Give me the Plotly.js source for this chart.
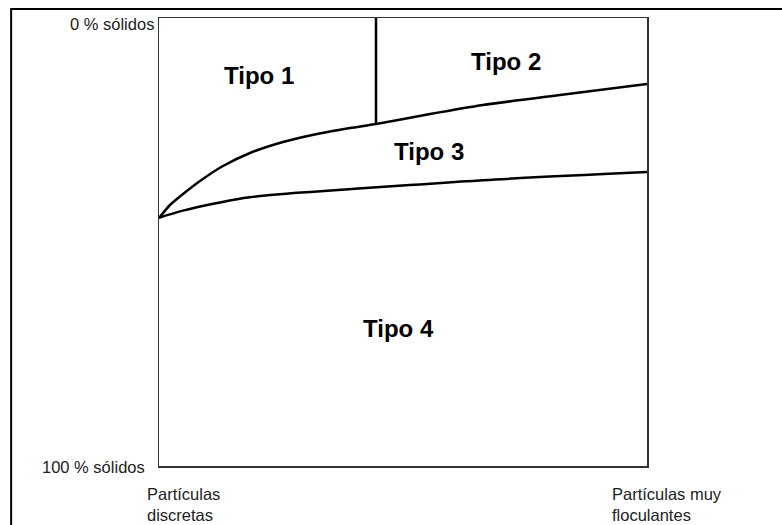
<!DOCTYPE html>
<html>
<head>
<meta charset="utf-8">
<script src="https://cdn.plot.ly/plotly-3.0.1.min.js"></script>
<style>html,body{margin:0;padding:0;background:#fff;}#chart{width:782px;height:525px;}</style>
</head>
<body>
<div id="chart"></div>
<script>
// x: 0 = partículas discretas, 1 = partículas muy floculantes; y: % sólidos (0 top, 100 bottom)
const upperX = [0, 0.0225, 0.0492, 0.084, 0.1311, 0.1865, 0.2541, 0.3238, 0.3914, 0.4447, 0.5553, 0.6639, 0.8217, 1.0];
const upperY = [44.64, 41.74, 39.29, 36.38, 33.04, 30.13, 27.68, 25.89, 24.55, 23.66, 21.43, 19.42, 17.19, 14.73];
const lowerX = [0, 0.049, 0.119, 0.186, 0.324, 0.514, 0.664, 1.0];
const lowerY = [44.6, 43.0, 41.3, 40.0, 38.7, 37.3, 36.2, 34.4];
const dividerX = [0.4447, 0.4447];
const dividerY = [0, 23.66];
const zoneLabels = ["Tipo 1", "Tipo 2", "Tipo 3", "Tipo 4"];
const zoneX = [0.205, 0.711, 0.553, 0.490];
const zoneY = [12.9, 9.6, 29.9, 69.2];
const yLabels = ["0 % sólidos", "100 % sólidos"];
const yLabelX = [-0.006, -0.025];
const yLabelPos = [0.987, -0.002];
const xLabels = ["Partículas<br>discretas", "Partículas muy<br>floculantes"];
const xLabelPos = [-0.029, 0.924];

const lineStyle = {color: "#000", width: 2.5};
const traces = [
  {x: upperX, y: upperY, mode: "lines", line: Object.assign({shape: "spline", smoothing: 0.6}, lineStyle), hoverinfo: "skip"},
  {x: lowerX, y: lowerY, mode: "lines", line: Object.assign({shape: "spline", smoothing: 1}, lineStyle), hoverinfo: "skip"},
  {x: dividerX, y: dividerY, mode: "lines", line: lineStyle, hoverinfo: "skip"}
];

const annotations = [];
zoneLabels.forEach((t, i) => annotations.push({
  x: zoneX[i], y: zoneY[i], xref: "x", yref: "y", text: "<b>" + t + "</b>", showarrow: false,
  xanchor: "center", yanchor: "middle",
  font: {family: "Liberation Sans, Arial, sans-serif", size: 24, color: "#000"}
}));
yLabels.forEach((t, i) => annotations.push({
  x: yLabelX[i], y: yLabelPos[i], xref: "paper", yref: "paper", text: t, showarrow: false,
  xanchor: "right", yanchor: "middle",
  font: {family: "Liberation Sans, Arial, sans-serif", size: 16.5, color: "#222"}
}));
xLabels.forEach((t, i) => annotations.push({
  x: xLabelPos[i], y: -0.087, xref: "paper", yref: "paper", text: t, showarrow: false,
  xanchor: "left", yanchor: "middle", align: "left",
  font: {family: "Liberation Sans, Arial, sans-serif", size: 16.5, color: "#222"}
}));

const layout = {
  width: 782, height: 525,
  margin: {l: 159, r: 135, t: 18, b: 59},
  paper_bgcolor: "#fff", plot_bgcolor: "#fff",
  showlegend: false,
  xaxis: {range: [0, 1], showgrid: false, zeroline: false, showticklabels: false, ticks: "",
          showline: true, mirror: true, linecolor: "#333", linewidth: 1.5, fixedrange: true},
  yaxis: {range: [100, 0], showgrid: false, zeroline: false, showticklabels: false, ticks: "",
          showline: true, mirror: true, linecolor: "#333", linewidth: 1.5, fixedrange: true},
  annotations: annotations,
  shapes: [{type: "rect", xref: "paper", yref: "paper", x0: -0.303, x1: 2, y0: 1.020, y1: -1,
            line: {color: "#000", width: 2}, layer: "above"}]
};

Plotly.newPlot("chart", traces, layout, {displayModeBar: false, staticPlot: true});
</script>
</body>
</html>
